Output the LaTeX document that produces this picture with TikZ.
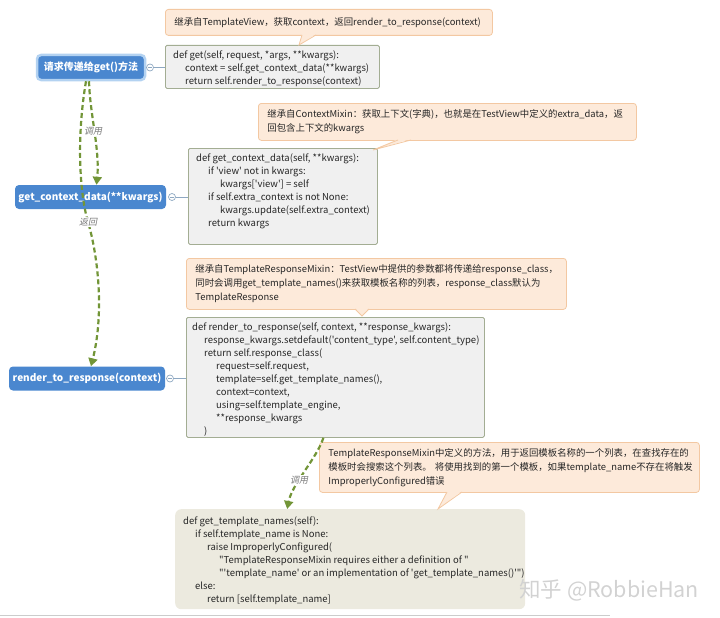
\documentclass[tikz,border=0pt]{standalone}
\usepackage{fontspec}
\setmainfont{Noto Sans CJK SC}[Ligatures=TeXOff]
\newfontfamily\slantfont{Noto Sans CJK SC}[FakeSlant=0.2]
\usetikzlibrary{arrows.meta}
\definecolor{topicblue}{HTML}{4A87CF}
\definecolor{glowblue}{HTML}{B3D2F1}
\definecolor{codefill}{HTML}{F0F0F0}
\definecolor{codeborder}{HTML}{A3AD93}
\definecolor{beigefill}{HTML}{ECEADF}
\definecolor{calloutfill}{HTML}{FDEADA}
\definecolor{calloutborder}{HTML}{F3C8A2}
\definecolor{flowgreen}{HTML}{729537}
\definecolor{labelgray}{HTML}{7A7A7A}
\definecolor{knobblue}{HTML}{8EA8C2}
\definecolor{textdark}{HTML}{262626}
\definecolor{wmgray}{HTML}{D2D2D2}
\tikzset{
  topic/.style={fill=topicblue, rounded corners=4pt, text=white, inner sep=0pt,
    font=\bfseries\fontsize{10}{12}\selectfont},
  codebox/.style={draw=codeborder, fill=codefill, line width=0.8pt, rounded corners=1.5pt,
    inner sep=0pt, anchor=north west},
  beigebox/.style={fill=beigefill, rounded corners=6pt, inner sep=0pt, anchor=north west},
  codetext/.style={anchor=north west, inner sep=0pt, align=left, text=textdark,
    font=\fontsize{9.5}{13}\selectfont},
  callout/.style={draw=calloutborder, fill=calloutfill, line width=0.8pt, rounded corners=3pt,
    anchor=north west, align=left, inner ysep=0pt, inner xsep=9pt, text=textdark,
    font=\fontsize{9.4}{14}\selectfont},
  flow/.style={draw=flowgreen, line width=2.2pt, dash pattern=on 5pt off 3pt,
    -{Triangle[length=8pt,width=9pt,fill=flowgreen]}},
  flowlabel/.style={font=\slantfont\fontsize{9}{10}\selectfont, text=labelgray, fill=white, inner sep=1pt},
  knob/.style={circle, draw=knobblue, fill=white, line width=0.7pt, inner sep=0pt, minimum size=7pt},
  link/.style={draw=knobblue, line width=0.8pt},
  ptrfill/.style={fill=calloutfill},
  ptrline/.style={draw=calloutborder, line width=0.8pt},
}
\newcommand{\ind}[1]{\hspace*{#1pt}}
\begin{document}
\begin{tikzpicture}[x=1pt,y=-1pt]
\useasboundingbox (0,0) rectangle (720,618);

% ---------- topic nodes ----------
\node[topic, draw=glowblue, line width=2.5pt, minimum width=108pt, minimum height=25pt] (n1) at (91,67.5) {请求传递给get()方法};
\node[topic, minimum width=151pt, minimum height=24pt] (n2) at (90.5,197) {get\_context\_data(**kwargs)};
\node[topic, minimum width=156pt, minimum height=24pt] (n3) at (87,378.5) {render\_to\_response(context)};

% ---------- code boxes ----------
\node[codebox, minimum width=214pt, minimum height=43pt] (b1) at (165,45) {};
\node[codetext] (t1) at ([shift={(8,5.5)}]b1.north west) {def get(self, request, *args, **kwargs):\\
\ind{12}context = self.get\_context\_data(**kwargs)\\
\ind{12}return self.render\_to\_response(context)};

\node[codebox, minimum width=189pt, minimum height=96pt] (b2) at (188,148) {};
\node[codetext] (t2) at ([shift={(8,6)}]b2.north west) {def get\_context\_data(self, **kwargs):\\
\ind{12}if 'view' not in kwargs:\\
\ind{24}kwargs['view'] = self\\
\ind{12}if self.extra\_context is not None:\\
\ind{24}kwargs.update(self.extra\_context)\\
\ind{12}return kwargs};

\node[codebox, minimum width=298pt, minimum height=120pt] (b3) at (186,317) {};
\node[codetext] (t3) at ([shift={(6,6)}]b3.north west) {def render\_to\_response(self, context, **response\_kwargs):\\
\ind{12}response\_kwargs.setdefault('content\_type', self.content\_type)\\
\ind{12}return self.response\_class(\\
\ind{24}request=self.request,\\
\ind{24}template=self.get\_template\_names(),\\
\ind{24}context=context,\\
\ind{24}using=self.template\_engine,\\
\ind{24}**response\_kwargs\\
\ind{12})};

\node[beigebox, minimum width=350pt, minimum height=100pt] (b4) at (175,509) {};
\node[codetext] (t4) at ([shift={(8,8)}]b4.north west) {def get\_template\_names(self):\\
\ind{12}if self.template\_name is None:\\
\ind{24}raise ImproperlyConfigured(\\
\ind{36}"TemplateResponseMixin requires either a definition of "\\
\ind{36}"'template\_name' or an implementation of 'get\_template\_names()'")\\
\ind{12}else:\\
\ind{24}return [self.template\_name]};

% ---------- callouts ----------
\node[callout, text width=309pt, minimum height=26pt] (c1) at (165,9) {继承自TemplateView，获取context，返回render\_to\_response(context)};
\node[callout, text width=360pt, minimum height=37pt] (c2) at (258,103) {继承自ContextMixin：获取上下文(字典)，也就是在TestView中定义的extra\_data，返\\回包含上下文的kwargs};
\node[callout, text width=362pt, minimum height=51pt] (c3) at (186,258) {继承自TemplateResponseMixin：TestView中提供的参数都将传递给response\_class，\\同时会调用get\_template\_names()来获取模板名称的列表，response\_class默认为\\TemplateResponse};
\node[callout, text width=362pt, minimum height=50pt] (c4) at (319,442) {TemplateResponseMixin中定义的方法，用于返回模板名称的一个列表，在查找存在的\\模板时会搜索这个列表。~将使用找到的第一个模板，如果template\_name不存在将触发\\ImproperlyConfigured错误};

% ---------- callout pointers ----------
\fill[ptrfill] (302,34) -- (299,45) -- (316,34) -- cycle;
\draw[ptrline] (302,35) -- (299,45) -- (316,35);
\fill[ptrfill] (398,139) -- (373,150) -- (411,139) -- cycle;
\draw[ptrline] (398,140) -- (373,150) -- (411,140);
\fill[ptrfill] (355,308) -- (362,316) -- (369,308) -- cycle;
\draw[ptrline] (355,309) -- (362,316) -- (369,309);
\fill[ptrfill] (447,491) -- (438,509) -- (462,491) -- cycle;
\draw[ptrline] (447,492) -- (438,509) -- (462,492);

% ---------- knobs and links ----------
\node[knob] (k1) at (150,67.5) {};
\node[knob] (k2) at (172,197) {};
\node[knob] (k3) at (170,378.5) {};
\foreach \k in {k1,k2,k3}{
  \draw[draw=knobblue, line width=0.6pt] ([xshift=1.6pt]\k.west) -- ([xshift=-1.6pt]\k.east);
}
\draw[link] (k1.east) -- (k1.east -| b1.west);
\draw[link] (k2.east) -- (k2.east -| b2.west);
\draw[link] (k3.east) -- (k3.east -| b3.west);

% ---------- flow arrows ----------
\coordinate (mid) at (88,222);
\draw[flow] ([xshift=-2pt]n1.south) .. controls (90,115) and (100,150) .. ([xshift=6pt]n2.north);
\draw[flow] ([xshift=-5pt]n1.south) .. controls (76,140) and (80,195) .. (mid) .. controls (97,252) and (105,310) .. ([xshift=4pt]n3.north);
\draw[flow] ([xshift=-12pt]b3.south) .. controls (317,458) and (292,484) .. ([xshift=-63pt]b4.north);
\node[flowlabel] (l1) at (93,131) {调用};
\node[flowlabel] (l2) at (mid) {返回};
\node[flowlabel] (l3) at (299,480) {调用};

% ---------- watermark and bottom rule ----------
\node[font=\fontsize{21.5}{24}\selectfont, text=wmgray, anchor=west, inner sep=0pt] (wm) at (519,590) {知乎 @RobbieHan};
\draw[draw=black!20, line width=1.5pt] (0,615.5) -- (610,615.5);
\end{tikzpicture}
\end{document}
